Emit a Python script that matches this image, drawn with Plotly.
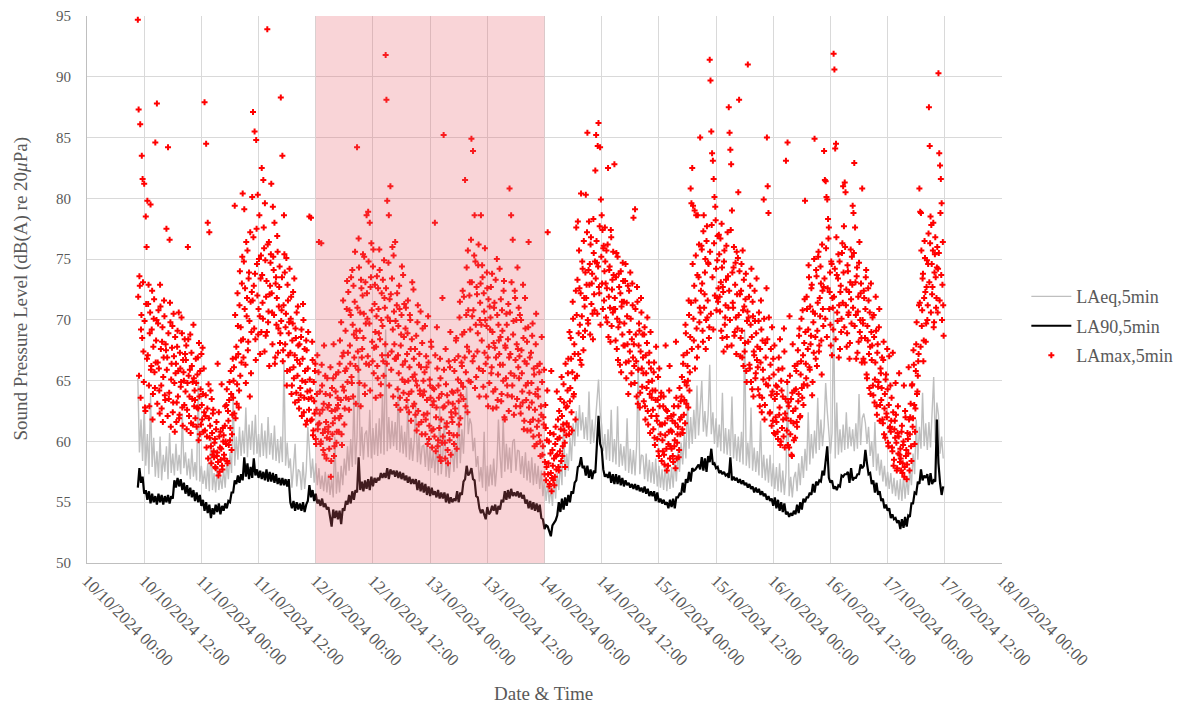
import pandas as pd
import plotly.graph_objects as go

# ---------------- data ----------------
START_LINES = "2024-10-10 10:40"   # 20-minute values for LAeq / LA90
START_MAX_A = "2024-10-10 10:40"   # LAmax samples, 10-minute steps
START_MAX_B = "2024-10-10 10:45"   # LAmax samples offset by 5 minutes

la90 = [
56.2,57.8,56.6,57.1,55.7,56.0, 55.2,55.9,54.9,55.7,55.0,55.5, 54.8,55.7,55.0,55.6,54.8,55.5,
55.0,55.6,54.9,55.5,55.3,56.8, 56.2,57.0,56.3,56.9,56.0,56.6, 55.7,56.4,55.5,56.2,55.4,56.0,
55.1,55.8,55.0,55.6,54.7,55.2, 54.3,55.0,54.1,54.8,53.7,54.5, 54.0,54.8,54.2,54.9,54.0,54.7,
54.3,54.9,54.5,55.1,55.0,55.8, 55.8,56.8,56.5,57.2,56.6,57.3, 56.8,58.7,57.1,58.2,56.9,57.9,
57.0,58.6,57.2,57.7,57.0,57.6, 56.9,57.5,56.8,57.7,56.7,57.5, 56.7,57.4,56.6,57.3,56.5,57.0,
56.4,57.0,56.4,56.9,56.3,56.9, 55.0,54.5,55.1,54.3,55.0,54.4, 54.9,54.3,55.0,54.2,54.8,55.1,
56.4,55.4,56.0,55.1,55.7,54.9, 55.2,54.7,55.3,54.6,54.9,54.4, 54.6,53.8,53.0,54.4,53.7,54.3,
53.6,54.3,53.2,54.5,54.3,55.1, 54.8,55.6,54.9,55.9,55.2,56.0, 55.8,58.7,56.0,56.7,55.9,56.8,
56.1,56.9,56.0,57.1,56.3,57.0, 56.6,57.0,56.8,57.4,57.0,57.4, 57.0,57.8,56.9,57.7,57.3,57.6,
57.1,57.6,57.0,57.5,56.9,57.4, 56.8,57.2,56.6,57.1,56.5,56.9, 56.5,56.9,56.0,56.8,55.9,56.6,
55.8,56.5,55.6,56.3,55.5,56.2, 55.6,55.9,55.4,56.0,55.3,55.8, 55.3,55.8,55.0,55.7,54.9,55.4,
55.0,55.3,55.1,55.9,55.0,55.8, 55.6,56.7,56.9,58.0,57.2,57.4, 57.8,56.9,56.8,55.5,55.4,54.5,
54.1,54.4,54.0,53.6,54.6,54.0, 54.2,54.7,54.3,54.8,54.0,54.7, 54.4,55.2,55.0,55.9,55.2,56.0,
55.3,56.1,55.5,55.8,55.5,55.9, 55.4,55.8,55.3,55.6,54.9,55.2, 54.5,55.1,54.4,55.0,54.3,54.9,
54.2,54.8,53.7,53.6,52.8,53.1, 53.0,52.5,52.2,53.1,53.3,53.5, 53.9,55.0,54.2,55.3,54.4,55.4,
54.7,55.6,55.0,55.9,55.7,56.6, 56.8,57.9,58.0,58.7,57.8,58.0, 57.2,58.0,57.0,57.7,56.9,57.6,
57.4,60.4,62.1,59.8,59.4,57.7, 57.1,57.3,57.0,57.5,56.6,57.3, 56.5,57.3,56.5,57.2,56.4,57.0,
56.3,56.8,56.4,56.6,56.2,56.5, 56.1,56.5,56.0,56.4,55.9,56.2, 55.8,56.3,55.7,56.1,55.5,55.9,
55.5,55.9,55.1,55.8,55.0,55.3, 54.9,55.2,54.8,55.0,54.5,55.2, 54.6,55.3,54.5,55.4,55.4,55.7,
55.6,56.6,55.8,56.9,56.6,57.5, 56.7,57.8,57.6,57.7,57.9,58.1, 57.7,58.7,57.6,58.6,57.5,58.8,
58.3,59.4,58.1,58.2,57.8,57.9, 57.4,57.6,57.3,57.5,57.2,57.3, 57.0,58.7,56.8,57.1,56.8,57.0,
56.6,56.9,56.5,56.8,56.4,56.6, 56.2,56.5,56.1,56.3,55.8,56.2, 55.8,56.1,55.6,55.9,55.5,55.7,
55.2,55.5,55.1,55.3,54.7,55.4, 54.5,55.2,54.3,55.0,54.2,54.9, 54.0,54.2,53.8,54.1,53.9,54.3,
54.0,54.8,54.1,55.0,54.4,55.3, 55.0,55.4,55.4,55.8,55.6,56.5, 55.8,56.7,56.4,56.8,56.7,57.6,
57.2,58.2,59.6,57.0,56.6,56.8, 56.1,56.3,56.0,56.4,56.3,57.2, 57.1,57.3,57.3,57.5,56.6,57.8,
56.8,57.0,57.0,57.3,57.3,58.1, 57.8,58.0,59.3,58.2,57.3,57.4, 56.5,56.8,55.8,56.6,55.6,55.9,
55.1,55.3,54.5,54.8,54.3,54.5, 53.7,54.0,53.6,53.7,53.3,53.5, 52.8,53.6,52.9,53.8,53.0,53.9,
53.8,54.9,54.9,55.8,55.7,56.7, 56.5,57.7,56.8,57.2,57.0,57.3, 56.4,57.4,56.5,56.8,56.7,61.8,
58.2,56.6,55.6,56.3,
]

laeq = [
65.2,59.1,61.8,58.4,62.9,58.0, 60.6,57.3,63.8,57.9,60.3,57.1, 59.2,57.0,60.4,56.8,58.9,57.5,
59.6,56.9,60.7,57.4,59.0,57.2, 59.8,57.6,58.9,57.3,62.3,57.8, 59.1,57.2,58.6,56.9,59.4,57.1,
58.3,56.8,65.1,56.7,58.0,56.5, 57.6,56.1,58.2,55.9,60.3,56.0, 57.4,55.8,57.9,56.0,57.2,56.1,
57.8,56.2,58.4,56.9,59.1,57.4, 63.9,58.0,60.4,58.5,61.2,58.8, 60.9,59.0,62.8,58.7,61.4,59.3,
61.7,58.9,62.2,59.0,60.6,58.7, 61.5,58.8,60.9,58.6,62.0,58.9, 60.7,58.5,61.3,58.4,60.2,58.2,
60.4,58.3,66.7,58.0,59.9,57.8, 58.6,56.2,57.9,59.8,56.3,57.7, 57.5,56.0,58.3,56.1,57.6,61.2,
59.4,57.0,58.6,56.6,58.2,56.4, 57.8,56.1,57.2,55.9,57.5,55.8, 57.3,55.6,56.9,55.4,60.4,55.7,
57.5,55.8,58.0,56.4,58.6,57.2, 59.6,57.6,60.2,57.9,63.6,58.1, 60.4,67.0,58.8,61.2,58.5,60.6,
60.9,58.7,62.6,58.6,61.1,58.9, 61.5,58.8,61.9,59.0,63.9,58.9, 69.2,59.2,62.0,59.4,61.7,59.6,
61.6,59.3,64.6,59.1,61.3,59.0, 60.8,58.7,63.3,58.5,60.3,58.4, 60.1,63.2,58.3,60.5,58.1,59.6,
59.7,57.9,60.2,57.6,59.5,57.8, 59.2,57.4,59.8,57.2,62.9,57.3, 58.9,61.8,57.1,58.7,57.0,58.6,
59.3,57.5,60.1,57.8,63.0,58.2, 61.0,59.0,62.2,64.5,60.6,61.9, 61.4,59.2,60.3,57.9,58.8,56.7,
57.9,56.2,60.8,55.9,58.0,56.3, 58.1,56.4,58.6,56.3,57.9,61.8, 58.9,57.0,61.9,57.5,59.8,57.7,
59.5,57.4,60.0,60.2,57.6,59.3, 59.2,57.3,58.8,57.0,59.1,56.8, 58.4,56.6,58.7,56.4,58.2,56.5,
58.0,56.1,57.6,55.5,56.9,55.1, 56.6,54.9,56.2,54.7,57.0,55.3, 57.4,56.0,58.3,56.4,61.7,57.1,
59.0,57.6,60.3,58.4,61.5,59.6, 62.5,60.4,63.0,60.9,62.4,60.2, 62.0,60.1,64.1,59.8,61.8,59.9,
61.5,63.2,65.1,62.4,61.3,59.2, 60.6,58.5,61.0,58.4,62.6,58.3, 60.2,58.1,62.9,57.9,59.8,58.0,
59.6,57.6,61.9,57.4,59.4,57.3, 59.3,57.2,59.7,66.5,57.3,58.9, 58.8,56.9,59.0,56.7,58.5,56.6,
58.3,56.5,58.6,56.3,58.0,56.2, 57.7,56.0,58.1,55.9,57.6,56.1, 57.9,56.2,58.6,56.7,59.2,57.5,
59.9,58.1,60.6,58.6,63.4,59.4, 62.0,59.8,62.6,60.2,64.6,60.5, 62.7,65.0,60.8,62.5,60.4,62.2,
66.3,60.6,62.4,59.8,61.9,59.5, 61.4,59.2,64.0,59.0,61.1,58.9, 61.0,58.8,63.7,58.6,60.6,58.4,
60.4,58.3,60.8,58.1,69.2,58.0, 59.9,57.8,62.8,57.6,59.5,57.5, 59.2,57.2,61.7,57.0,58.9,56.8,
58.6,56.6,58.9,56.3,58.2,56.1, 57.9,55.9,58.2,55.8,57.6,55.6, 57.4,65.0,55.5,57.1,55.4,57.0,
57.5,55.9,58.2,56.4,58.8,57.0, 59.4,57.6,62.4,58.1,60.6,58.6, 60.9,59.0,63.6,59.3,61.8,59.6,
61.2,64.8,62.5,60.8,59.0,60.7, 71.0,58.6,63.2,58.9,61.0,59.1, 61.4,59.3,62.4,59.4,61.2,59.6,
61.0,59.2,61.5,59.4,63.9,59.7, 61.9,62.3,61.5,59.8,61.2,58.8, 60.0,57.9,61.6,57.6,59.0,57.2,
58.5,56.7,58.0,56.3,57.5,56.1, 57.4,55.7,57.0,55.5,56.8,55.2, 56.9,55.1,57.2,55.3,57.0,55.6,
57.8,56.4,59.0,57.3,61.8,58.5, 61.2,59.4,64.0,59.6,61.5,59.3, 61.6,59.5,62.0,65.3,59.9,63.2,
62.2,59.0,60.4,58.6,
]

lamax_a = [
94.7,87.3,73.6,86.1,69.2,83.5,81.6,67.4,81.2,62.8,78.5,76.0,
79.8,71.3,64.6,68.9,79.5,66.2,72.4,63.9,70.1,65.7,84.6,68.3,
87.8,66.5,70.8,64.2,72.9,67.6,62.7,69.4,65.3,71.6,63.8,68.0,
77.5,66.9,84.2,63.5,76.6,69.8,65.1,67.7,62.4,70.5,64.8,68.6,
66.4,63.2,69.1,65.8,61.9,67.3,64.5,70.2,62.8,66.7,65.0,68.4,
64.1,67.9,62.6,76.0,65.4,63.7,68.8,61.5,66.2,64.9,69.6,62.9,
63.4,66.8,61.2,65.5,62.7,68.1,60.6,64.3,67.2,61.8,63.9,66.0,
87.9,62.1,84.5,60.4,78.0,64.7,77.2,61.3,59.6,63.5,58.9,62.6,
58.7,60.2,57.8,61.6,59.1,58.3,62.4,57.5,60.8,59.4,58.0,61.1,
60.5,58.6,62.9,59.8,64.3,58.2,61.7,63.4,60.1,65.8,59.3,62.2,
63.6,66.1,79.4,61.9,67.8,64.7,69.5,62.8,71.2,65.4,68.3,73.0,
80.4,66.9,79.1,72.6,64.8,70.3,75.7,68.2,73.9,63.7,71.5,69.0,
80.1,87.1,72.8,85.5,68.4,84.8,74.6,80.3,70.9,78.6,67.2,75.3,
82.5,71.4,81.5,75.9,79.6,68.7,73.2,93.9,69.8,76.4,72.1,74.7,
81.2,70.6,79.3,74.1,78.0,66.9,73.5,71.8,75.6,69.3,72.7,68.1,
88.3,70.8,83.5,67.5,78.6,73.9,69.4,75.1,65.8,71.6,68.9,74.2,
67.3,71.9,64.6,69.7,66.1,73.4,63.2,68.5,70.6,65.4,67.9,62.7,
66.4,63.8,69.2,65.0,71.3,62.4,67.6,64.9,68.3,61.7,66.0,63.5,
78.5,64.2,78.4,61.8,66.7,60.9,63.3,65.8,60.2,62.6,67.1,61.4,
76.4,62.3,59.8,76.3,64.6,60.7,63.1,58.9,65.4,61.6,60.3,62.8,
61.2,59.4,63.8,57.1,62.5,60.6,65.2,58.8,61.9,64.1,59.9,62.7,
63.0,60.8,66.4,62.1,69.8,59.7,64.5,67.3,61.4,65.8,63.6,70.9,
64.9,72.3,62.6,67.9,70.4,65.3,74.1,63.7,68.8,71.5,66.2,69.1,
84.2,67.4,76.7,64.8,70.6,73.3,66.9,72.0,68.5,75.2,63.9,69.7,
78.6,70.1,78.9,66.3,78.0,72.7,76.3,68.2,74.4,65.6,71.3,69.0,
67.8,73.6,65.2,70.9,75.8,68.4,64.7,72.2,69.5,66.6,74.9,71.0,
91.8,88.1,79.8,67.1,78.6,71.7,81.0,65.9,73.4,69.2,75.3,68.0,
76.4,66.8,71.2,64.3,69.5,72.8,63.6,67.9,70.4,65.1,73.7,68.6,
64.9,69.3,62.8,67.2,71.6,63.9,66.1,70.0,61.7,68.4,65.3,72.5,
63.1,67.6,65.0,60.9,69.8,62.5,66.3,64.2,70.7,61.6,68.1,63.8,
62.2,65.7,60.6,67.0,63.4,59.8,66.5,61.3,64.6,68.2,60.9,63.0,
61.0,64.3,78.0,59.2,62.8,66.0,60.1,63.6,58.7,65.2,61.8,59.9,
60.4,85.2,62.9,58.6,64.7,61.5,59.3,63.2,60.7,66.1,58.9,62.0,
61.6,64.0,59.8,66.7,62.3,68.5,60.5,65.1,63.3,70.2,61.9,64.8,
66.2,72.4,63.5,69.0,81.5,65.7,74.3,62.4,70.8,67.4,73.1,64.9,
84.9,70.3,83.9,67.0,78.6,74.8,65.3,72.1,68.9,76.2,63.7,71.4,
78.6,68.3,73.5,64.5,70.7,75.9,66.4,69.5,72.6,62.9,67.8,71.1,
70.2,65.6,73.8,62.7,68.1,71.4,64.3,66.9,75.0,63.4,69.6,67.2,
66.3,71.7,63.9,69.1,65.0,73.2,61.8,67.7,70.5,64.6,68.4,62.5,
80.8,67.2,78.6,63.7,76.6,69.9,65.4,71.8,62.9,68.0,74.3,66.1,
65.2,70.4,62.3,67.5,64.1,72.9,61.0,66.6,69.3,63.4,68.2,64.8,
76.4,64.0,61.6,67.3,63.2,69.7,60.4,65.5,62.6,68.0,59.8,66.2,
63.7,60.5,66.4,58.8,62.2,64.9,59.6,61.4,57.3,63.0,56.8,60.1,
77.2,58.2,56.3,60.7,57.4,55.9,59.3,56.8,58.6,57.1,61.2,57.7,
58.9,61.8,57.6,60.3,63.5,58.4,62.1,59.6,64.7,60.9,57.9,62.8,
61.5,64.2,66.8,60.6,63.3,68.5,62.4,65.7,70.1,63.9,67.2,61.8,
77.6,65.4,78.1,68.9,72.6,66.7,80.4,70.3,74.2,67.5,71.8,69.1,
80.3,72.9,85.4,69.7,78.1,74.6,76.2,71.3,73.8,68.4,75.5,70.8,
82.3,85.2,74.7,84.3,86.2,72.2,84.2,79.9,78.6,77.4,75.9,71.6,
77.6,73.0,75.7,69.8,82.5,71.9,74.4,68.2,76.8,72.5,70.6,73.7,
82.8,70.9,73.5,67.6,75.2,69.4,72.7,66.3,74.0,71.1,68.8,73.2,
71.5,67.9,74.6,65.2,70.3,72.8,66.6,69.0,73.9,64.7,68.4,71.2,
78.4,66.2,79.1,68.8,63.7,71.5,65.9,69.7,62.8,67.4,70.6,64.5,
66.9,63.3,69.4,61.8,65.6,68.1,62.5,64.9,67.3,60.7,66.0,63.6,
64.2,61.0,66.5,59.7,63.4,62.1,60.2,65.3,58.8,62.9,60.6,64.0,
61.4,59.2,63.7,58.1,60.5,62.6,57.6,61.9,59.8,64.2,58.6,60.9,
59.4,61.7,58.3,62.9,60.1,57.8,63.6,59.9,61.2,58.7,64.4,60.6,
62.0,65.3,60.7,67.1,63.4,61.5,68.9,64.6,66.2,62.8,70.4,65.7,
80.8,79.6,82.5,79.4,68.3,79.0,71.6,78.6,66.9,78.6,73.5,69.8,
85.0,72.4,75.8,69.1,77.3,71.0,73.9,67.6,76.5,70.2,74.7,68.5,
91.4,89.7,85.5,83.7,83.1,81.6,80.1,79.3,74.2,71.8,76.9,72.6,
75.4,70.7,73.1,77.9,68.5,72.3,74.8,69.6,71.2,76.1,67.8,73.6,
87.5,85.4,84.0,82.8,79.0,71.4,74.3,68.7,72.9,70.2,75.6,69.3,
80.5,88.1,72.1,68.5,74.6,66.9,70.8,73.3,67.4,71.7,65.8,69.9,
91.0,70.2,66.3,72.8,64.9,68.6,71.5,63.7,67.1,69.9,65.6,73.4,
67.8,64.3,70.6,62.9,66.5,69.2,63.6,65.9,79.9,61.8,68.1,64.7,
85.0,81.0,78.8,65.2,62.4,67.6,61.3,64.1,66.8,60.7,63.5,62.0,
61.6,64.5,60.2,66.9,62.8,59.7,65.0,61.1,63.7,60.4,67.4,62.3,
83.1,60.9,84.6,63.2,59.5,65.4,61.7,58.9,64.0,62.5,60.1,66.2,
62.7,65.8,61.2,67.5,63.9,69.3,62.1,66.6,64.4,70.8,63.0,68.1,
79.8,66.4,71.9,64.6,69.2,73.5,65.9,68.0,72.6,63.8,70.7,67.3,
84.9,68.6,74.1,66.2,71.4,75.6,67.9,70.3,73.0,65.5,72.4,69.5,
83.9,81.5,81.4,80.1,79.9,78.3,77.6,72.3,69.6,74.8,67.1,71.0,
91.9,90.6,84.1,84.5,73.7,69.9,75.4,71.2,67.6,72.8,70.1,76.3,
81.0,77.7,81.3,80.5,72.5,68.9,74.0,70.6,66.8,73.1,71.7,75.2,
79.4,78.8,82.9,77.6,70.4,73.6,67.3,71.9,74.7,69.0,72.2,68.5,
80.8,69.7,72.4,66.5,70.9,74.1,65.2,68.3,71.6,64.4,67.8,73.0,
66.7,70.2,63.8,68.6,65.1,71.9,62.9,67.3,64.5,69.4,61.7,66.0,
63.4,66.9,61.5,68.2,62.7,60.3,65.5,62.0,64.3,59.6,67.0,61.2,
60.8,63.6,59.2,62.4,58.5,61.7,64.8,59.9,57.8,62.9,60.4,58.9,
59.4,57.6,61.3,58.2,60.0,57.1,62.5,58.8,56.9,60.7,59.0,61.8,
60.6,63.1,58.4,64.7,61.9,66.3,59.8,62.7,68.0,63.9,65.4,67.2,
80.8,78.9,78.8,69.5,73.4,66.6,71.8,75.1,68.2,72.7,70.0,74.6,
87.5,84.3,78.5,77.8,72.1,75.7,69.4,73.9,76.8,71.0,74.3,70.6,
90.3,83.7,82.7,81.6,79.6,72.9,71.2,
]

lamax_b = [
71.9,65.4,72.8,63.6,70.4,68.5,73.1,64.9,69.9,62.5,71.3,66.8,
67.1,72.9,62.9,70.6,65.9,69.2,61.8,67.8,71.7,64.4,66.5,70.0,
63.1,69.7,66.0,62.3,71.1,64.6,68.2,61.6,66.9,70.3,63.4,67.5,
65.9,62.1,68.9,64.0,71.4,61.2,66.4,69.5,63.2,67.0,60.8,65.6,
61.6,67.8,63.7,70.6,62.2,66.0,64.9,68.9,61.3,65.7,63.0,67.2,
66.7,61.0,64.8,68.4,62.1,65.9,60.7,67.3,63.5,61.4,65.2,64.2,
61.9,64.8,62.8,66.9,60.1,63.7,65.8,61.4,63.0,67.7,60.8,62.4,
60.9,63.8,59.5,62.7,58.6,61.9,60.3,64.2,58.2,60.7,62.3,59.2,
59.9,57.9,61.0,58.8,66.4,57.2,60.4,59.5,58.5,64.7,57.7,60.0,
58.9,61.3,60.0,63.0,58.4,62.5,59.7,64.9,61.1,63.9,60.6,66.8,
65.0,62.3,70.4,66.9,63.1,72.2,67.2,64.2,74.0,69.4,66.5,75.2,
68.4,74.8,70.9,66.3,76.4,71.8,67.5,73.4,69.9,77.2,65.6,72.3,
71.6,76.8,69.3,73.8,66.7,77.5,72.0,68.8,75.0,70.3,73.4,69.0,
73.7,70.1,77.6,67.4,74.9,71.9,69.0,76.2,70.7,66.2,72.8,75.4,
72.2,68.0,75.2,70.4,66.4,73.0,69.6,76.9,67.3,71.1,74.4,68.9,
69.9,73.5,66.6,71.2,75.4,68.0,70.5,64.6,72.9,67.1,69.8,65.9,
70.1,63.9,68.3,72.3,65.2,67.1,69.3,64.0,66.7,71.1,63.4,68.0,
64.4,68.6,62.1,66.8,70.0,63.6,65.8,61.4,67.5,64.1,69.0,62.6,
65.1,61.7,63.6,68.2,60.5,64.9,62.3,66.4,59.8,63.9,61.0,65.7,
61.5,64.1,60.0,66.3,62.6,59.3,67.9,61.0,63.9,58.6,65.2,60.8,
63.0,60.2,66.1,58.4,64.4,61.5,68.0,59.6,62.6,65.5,60.8,63.6,
65.7,61.9,68.3,63.4,60.6,67.0,71.6,64.2,62.7,69.1,66.0,73.2,
67.3,63.5,70.8,66.4,73.5,64.8,69.6,72.8,66.9,75.6,63.1,68.5,
71.0,65.9,74.3,69.1,62.9,72.6,67.6,75.4,70.5,64.6,73.1,66.4,
72.2,67.0,74.8,69.7,64.2,73.5,70.8,66.6,75.8,67.7,72.9,63.6,
70.3,66.2,72.6,68.9,74.1,63.8,70.0,67.1,73.3,65.4,71.8,68.0,
72.6,66.4,70.2,74.7,64.6,69.9,72.1,67.4,76.0,63.7,70.7,66.8,
69.9,63.0,72.2,67.1,65.6,70.9,62.6,68.8,74.4,66.3,64.0,71.3,
66.6,71.0,63.4,68.9,65.0,62.4,70.4,67.6,64.1,73.1,62.9,66.8,
65.5,62.2,68.7,64.6,71.2,61.4,67.2,63.9,66.1,60.6,69.3,65.0,
64.1,69.5,61.8,66.1,62.3,70.3,60.2,65.1,63.6,67.8,59.5,64.4,
63.3,60.4,67.1,62.0,69.4,59.6,64.6,61.1,66.8,58.4,63.9,71.8,
62.8,65.9,59.9,67.6,61.2,63.8,58.2,66.6,60.1,69.0,62.4,64.1,
63.1,60.5,65.8,62.7,68.3,59.4,64.2,67.0,61.4,71.5,63.8,66.5,
68.8,64.5,71.9,66.9,62.9,70.4,67.8,75.7,65.0,72.0,69.2,76.6,
73.1,66.6,70.8,75.3,64.4,69.6,72.7,67.4,74.5,66.0,70.0,73.0,
69.6,74.5,65.8,72.2,67.3,70.0,63.7,73.9,66.9,71.7,64.8,69.2,
72.7,66.1,69.0,64.1,71.0,67.7,73.3,62.8,70.4,65.5,68.3,74.2,
68.6,63.3,70.8,66.3,72.4,62.0,67.9,65.2,69.6,63.8,71.3,66.9,
70.6,65.6,73.1,64.6,68.8,62.2,72.4,66.7,70.0,63.5,67.6,71.0,
67.0,62.9,70.0,65.6,63.2,68.5,61.7,71.8,64.6,66.4,60.9,69.4,
62.8,66.9,60.9,64.8,68.7,61.8,66.0,59.6,63.9,70.5,61.2,64.3,
61.7,65.7,60.0,62.9,68.6,58.9,62.0,65.9,58.3,61.1,57.9,64.2,
57.3,60.0,56.5,59.0,65.8,57.0,58.0,60.6,56.4,59.8,58.8,64.1,
60.2,57.9,62.5,59.2,61.0,65.3,58.8,61.4,63.2,59.9,66.4,60.5,
62.9,65.6,61.2,69.0,64.4,66.8,60.9,71.5,63.7,68.0,65.2,72.4,
70.4,73.3,67.2,75.7,69.6,72.2,66.3,74.8,68.6,76.5,71.1,73.9,
71.8,77.2,70.0,74.1,72.9,68.8,76.8,73.0,70.5,78.3,72.1,74.8,
73.4,76.5,70.5,74.4,72.7,77.7,69.6,75.2,73.0,70.9,76.1,74.0,
74.8,70.2,72.6,76.2,68.6,74.1,71.0,77.4,69.5,73.3,75.6,70.9,
71.8,68.3,75.5,70.1,66.7,73.8,69.8,72.2,65.7,71.5,74.7,67.9,
69.7,73.2,66.5,71.4,68.0,63.9,72.4,67.4,70.1,65.6,73.0,66.9,
68.0,64.8,70.9,66.6,72.7,63.1,67.9,69.1,64.0,71.8,66.0,68.8,
65.6,68.8,62.9,67.1,64.4,70.2,61.4,66.5,63.9,69.0,62.1,65.0,
62.6,65.7,60.3,64.2,67.8,61.7,63.4,59.2,66.0,61.4,63.7,58.4,
60.1,62.9,58.9,61.5,67.9,59.4,62.5,58.0,60.8,66.2,59.6,62.1,
60.8,58.8,62.2,59.6,61.5,68.2,58.6,60.6,62.9,59.3,61.8,63.3,
63.7,61.0,66.4,62.2,64.9,69.6,63.1,67.3,65.0,71.6,64.2,68.6,
71.4,67.6,74.6,70.1,72.8,66.0,75.3,69.3,73.7,67.8,76.2,71.0,
70.6,76.1,73.0,68.2,78.6,72.1,75.0,70.0,77.7,71.6,74.6,69.4,
75.6,70.5,77.8,73.5,69.2,76.3,72.0,78.2,70.8,74.9,71.5,77.0,
71.9,76.7,69.1,74.3,72.7,67.4,75.7,70.2,73.3,68.6,77.2,71.0,
72.4,70.0,77.4,67.9,73.9,71.0,76.0,69.0,74.7,67.2,72.1,75.1,
70.4,74.0,67.0,72.4,69.1,75.7,66.2,71.1,68.1,73.8,64.9,70.7,
68.2,71.9,66.0,69.6,74.2,64.3,70.3,67.4,72.4,65.2,68.9,66.7,
66.1,69.9,63.8,67.6,71.6,62.4,68.3,65.1,70.1,63.0,66.9,72.6,
68.4,64.6,70.2,62.3,66.3,63.8,69.4,61.7,65.5,67.9,60.6,64.6,
63.9,60.8,65.9,62.2,68.4,60.0,64.2,66.0,61.8,69.3,59.5,63.5,
61.9,64.9,59.7,62.9,70.3,60.6,63.5,58.8,68.0,61.5,64.2,60.3,
64.3,61.6,66.4,63.3,68.7,62.0,65.5,70.1,63.6,67.1,64.7,71.7,
69.0,65.2,70.9,67.6,74.5,66.1,71.1,68.7,72.9,64.9,69.8,75.0,
70.5,66.8,73.6,69.1,75.2,67.4,71.8,74.4,68.3,76.2,70.9,72.7,
73.4,70.1,75.9,68.6,72.6,76.7,70.9,73.9,67.9,74.6,71.8,69.2,
71.9,74.2,68.4,76.8,70.6,73.4,66.9,74.8,72.3,69.0,75.5,71.4,
73.9,69.4,76.0,71.2,67.8,74.5,70.4,72.3,68.1,75.8,69.7,72.9,
71.0,75.5,69.5,73.1,66.8,74.3,70.7,68.2,76.4,70.0,73.0,66.5,
70.0,66.8,71.8,68.5,73.5,65.5,69.5,72.6,67.2,70.6,63.9,69.0,
67.9,64.6,70.4,63.2,66.5,69.1,62.2,68.0,64.9,70.9,63.0,65.6,
64.4,61.8,66.7,60.6,63.9,65.1,62.3,67.6,59.9,63.0,61.1,64.6,
61.7,59.5,67.3,58.0,61.0,60.3,62.2,57.6,60.7,59.0,65.6,58.3,
58.6,60.8,57.4,59.7,64.6,57.9,62.0,59.3,58.1,60.2,66.1,57.6,
62.0,59.6,64.6,61.2,67.5,63.0,60.8,65.8,69.8,64.1,66.6,71.2,
71.4,67.8,75.7,70.8,73.8,68.3,76.5,72.3,69.7,74.9,71.2,77.1,
73.1,76.3,70.6,74.6,72.7,78.0,69.8,75.4,73.5,71.8,76.0,74.2,
75.5,71.6,78.8,73.7,70.0,76.4,68.7,
]

y_ticks = [50, 55, 60, 65, 70, 75, 80, 85, 90, 95]
highlight_start = "2024-10-12 00:00"
highlight_end = "2024-10-14 00:00"
x_range = ["2024-10-10 00:00", "2024-10-18 00:00"]

t_la90 = pd.date_range(START_LINES, periods=len(la90), freq="20min")
t_laeq = pd.date_range(START_LINES, periods=len(laeq), freq="20min")
t_max_a = pd.date_range(START_MAX_A, periods=len(lamax_a), freq="10min")
t_max_b = pd.date_range(START_MAX_B, periods=len(lamax_b), freq="10min")

FONT = "Liberation Serif, Times New Roman, serif"
TXT = "#595959"

fig = go.Figure()
fig.add_trace(go.Scatter(x=t_laeq, y=laeq, mode="lines", name="LAeq,5min",
                         legendgroup="g0",
                         line=dict(color="#bfbfbf", width=1.4)))
fig.add_trace(go.Scatter(x=t_la90, y=la90, mode="lines", name="LA90,5min",
                         legendgroup="g1",
                         line=dict(color="#000000", width=2.2)))
fig.add_trace(go.Scatter(x=list(t_max_a) + list(t_max_b), y=lamax_a + lamax_b,
                         mode="markers", name="LAmax,5min", legendgroup="g2",
                         marker=dict(symbol="cross", size=5, color="#ff0000",
                                     line=dict(width=0))))

fig.add_shape(type="rect", xref="x", yref="paper",
              x0=highlight_start, x1=highlight_end, y0=0, y1=1,
              fillcolor="rgba(232,100,110,0.28)", line=dict(width=0),
              layer="above")

# the page body adds an 8 px margin, so the figure is 8 px smaller
fig.update_layout(
    width=1175, height=701,
    margin=dict(l=79, r=181, t=8, b=146, autoexpand=False),
    paper_bgcolor="white", plot_bgcolor="white",
    font=dict(family=FONT, color=TXT, size=15),
    showlegend=True,
    legend=dict(x=1.0266, y=0.433, xanchor="left", yanchor="middle",
                font=dict(family=FONT, size=18, color=TXT),
                itemwidth=40, tracegroupgap=3, bgcolor="rgba(0,0,0,0)"),
    xaxis=dict(type="date", range=x_range, tick0="2024-10-10 00:00",
               dtick=43200000, tickformat="%d/%m/%Y %H:%M", tickangle=45,
               showgrid=True, gridcolor="#d9d9d9", gridwidth=1,
               showline=True, linecolor="#bfbfbf", linewidth=1,
               ticks="", tickfont=dict(family=FONT, size=17, color=TXT),
               zeroline=False, fixedrange=True, automargin=False),
    yaxis=dict(range=[50, 95], tickvals=y_ticks, showgrid=True,
               gridcolor="#d9d9d9", gridwidth=1, showline=True,
               linecolor="#bfbfbf", linewidth=1, ticks="",
               ticklabelstandoff=12,
               tickfont=dict(family=FONT, size=15, color=TXT),
               zeroline=False, fixedrange=True, automargin=False),
    annotations=[
        dict(text="Sound Pressure Level (dB(A) re 20<i>μ</i>Pa)", xref="paper",
             yref="paper", x=(20 - 87) / 915, y=0.5, xanchor="center",
             yanchor="middle", textangle=-90, showarrow=False,
             font=dict(family=FONT, size=19, color=TXT)),
        dict(text="Date &amp; Time", xref="paper", yref="paper",
             x=(543 - 87) / 915, y=-(693 - 563) / 547, xanchor="center",
             yanchor="middle", showarrow=False,
             font=dict(family=FONT, size=19, color=TXT)),
    ],
)

fig.write_html("out.html")
